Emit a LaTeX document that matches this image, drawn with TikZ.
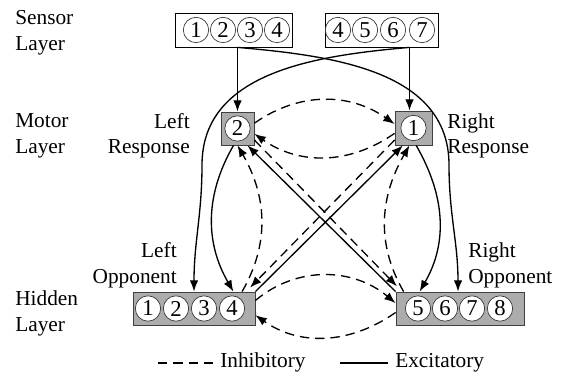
\documentclass[tikz,border=0pt]{standalone}
\usepackage{fontspec}
\setmainfont{Liberation Serif}
\usetikzlibrary{arrows.meta}

\begin{document}
\begin{tikzpicture}[
        x=0.75pt, y=-0.75pt,
        font=\rmfamily\fontsize{16}{19}\selectfont,
        unit/.style={rectangle, draw=black!75, fill=gray!65,
                     line width=0.6pt, inner sep=0pt},
        sensor/.style={rectangle, draw, fill=white,
                       line width=0.6pt, inner sep=0pt},
        cnum/.style={circle, draw=black!80, fill=white, line width=0.5pt,
                     minimum size=19pt, inner sep=0pt,
                     font=\fontsize{17}{17}\selectfont},
        excit/.style={-{Latex[length=8.5pt,width=6.5pt]}, line width=1pt},
        inhib/.style={excit, dash pattern=on 7pt off 4.5pt},
        lbl/.style={inner sep=0pt}
    ]
    \useasboundingbox (0,0) rectangle (564,377);

    % layer names
    \node[lbl, anchor=west, align=left] (sensorname) at (15,32.8) {Sensor\\Layer};
    \node[lbl, anchor=west, align=left] (motorname) at (15,135.8) {Motor\\Layer};
    \node[lbl, anchor=west, align=left] (hiddenname) at (15,313.3) {Hidden\\Layer};

    % sensor boxes
    \node[sensor, minimum width=87.75pt, minimum height=25.5pt] (sl) at (233.5,30) {};
    \node[sensor, minimum width=84.75pt, minimum height=25.5pt] (sr) at (381.5,30) {};

    % motor units
    \node[unit, minimum width=24.75pt, minimum height=24.75pt] (ml) at (237.5,128.5) {};
    \node[unit, minimum width=27.75pt, minimum height=25.5pt] (mr) at (413.5,128) {};
    \node[lbl, anchor=east, align=right] (leftresp) at (190,135.8) {Left\\Response};
    \node[lbl, anchor=west, align=left] (rightresp) at (447,135.8) {Right\\Response};

    % hidden units
    \node[unit, minimum width=91.5pt, minimum height=24.75pt] (hl) at (194,308.5) {};
    \node[unit, minimum width=96pt, minimum height=24.75pt] (hr) at (460,308.5) {};
    \node[lbl, anchor=east, align=right] (leftopp) at (177,265.3) {Left\\Opponent};
    \node[lbl, anchor=west, align=left] (rightopp) at (468,265.3) {Right\\Opponent};

    \coordinate (bendR) at (449,165);
    \coordinate (bendL) at (202,165);

    % excitatory links
    \draw[excit] (ml.north |- sl.south) -- (ml.north);
    \draw[excit] ([xshift=-3pt]mr.north |- sr.south) -- ([xshift=-3pt]mr.north);
    \draw[excit] (ml.north |- sl.south) to[out=-5,in=90] (bendR)
                 to[out=-90,in=90] ([xshift=-1.5pt]hr.north);
    \draw[excit] ([xshift=-3pt]mr.north |- sr.south) to[out=185,in=90] (bendL)
                 to[out=-90,in=90] (hl.north);
    \draw[excit] ([xshift=-3pt]ml.south) to[out=-120,in=120] ([xshift=-16.5pt]hl.north east);
    \draw[excit] ([xshift=2pt]mr.south) to[out=-60,in=60] ([xshift=18pt]hr.north west);
    \draw[excit] (hl.north east) -- ([xshift=-8pt]mr.south);
    \draw[excit] (hr.north west) -- ([xshift=7.5pt]ml.south);

    % inhibitory links
    \draw[inhib] ([yshift=4pt]ml.east) to[out=35,in=145] ([yshift=3pt]mr.west);
    \draw[inhib] ([yshift=-4pt]mr.west) to[out=-145,in=-35] ([yshift=-4pt]ml.east);
    \draw[inhib] ([yshift=6pt]hl.east) to[out=40,in=140] ([yshift=4pt]hr.west);
    \draw[inhib] ([yshift=-3pt]hr.west) to[out=-145,in=-35] ([yshift=-5pt]hl.east);
    \draw[inhib] ([xshift=-10pt]hl.north east) to[out=60,in=-60] (ml.south);
    \draw[inhib] ([xshift=6pt]hr.north west) to[out=120,in=-120] ([xshift=-3pt]mr.south);
    \draw[inhib] ([yshift=4pt]mr.south west) -- ([xshift=-4pt,yshift=3pt]hl.north east);
    \draw[inhib] ([yshift=4pt]ml.south east) -- ([xshift=1pt,yshift=4pt]hr.north west);

    % numbered neurons
    \foreach \n/\x in {1/196,2/223,3/250,4/277} \node[cnum] (sl\n) at (\x,30) {\n};
    \foreach \n/\x in {4/338,5/365,6/393,7/422} \node[cnum] (sr\n) at (\x,30) {\n};
    \node[cnum] (ml2) at (ml) {2};
    \node[cnum] (mr1) at (mr) {1};
    \foreach \n/\x in {1/148,2/176,3/204,4/232} \node[cnum] (hl\n) at (\x,308.5) {\n};
    \foreach \n/\x in {5/418,6/445,7/472,8/500} \node[cnum] (hr\n) at (\x,308.5) {\n};

    % legend
    \node[lbl, anchor=base west] (inhname) at (220,368) {Inhibitory};
    \node[lbl, anchor=base west] (excname) at (395,368) {Excitatory};
    \draw[line width=1pt, dash pattern=on 7pt off 4.5pt] (158,363) -- (213,363);
    \draw[line width=1pt] (340,363) -- (388,363);

\end{tikzpicture}
\end{document}
